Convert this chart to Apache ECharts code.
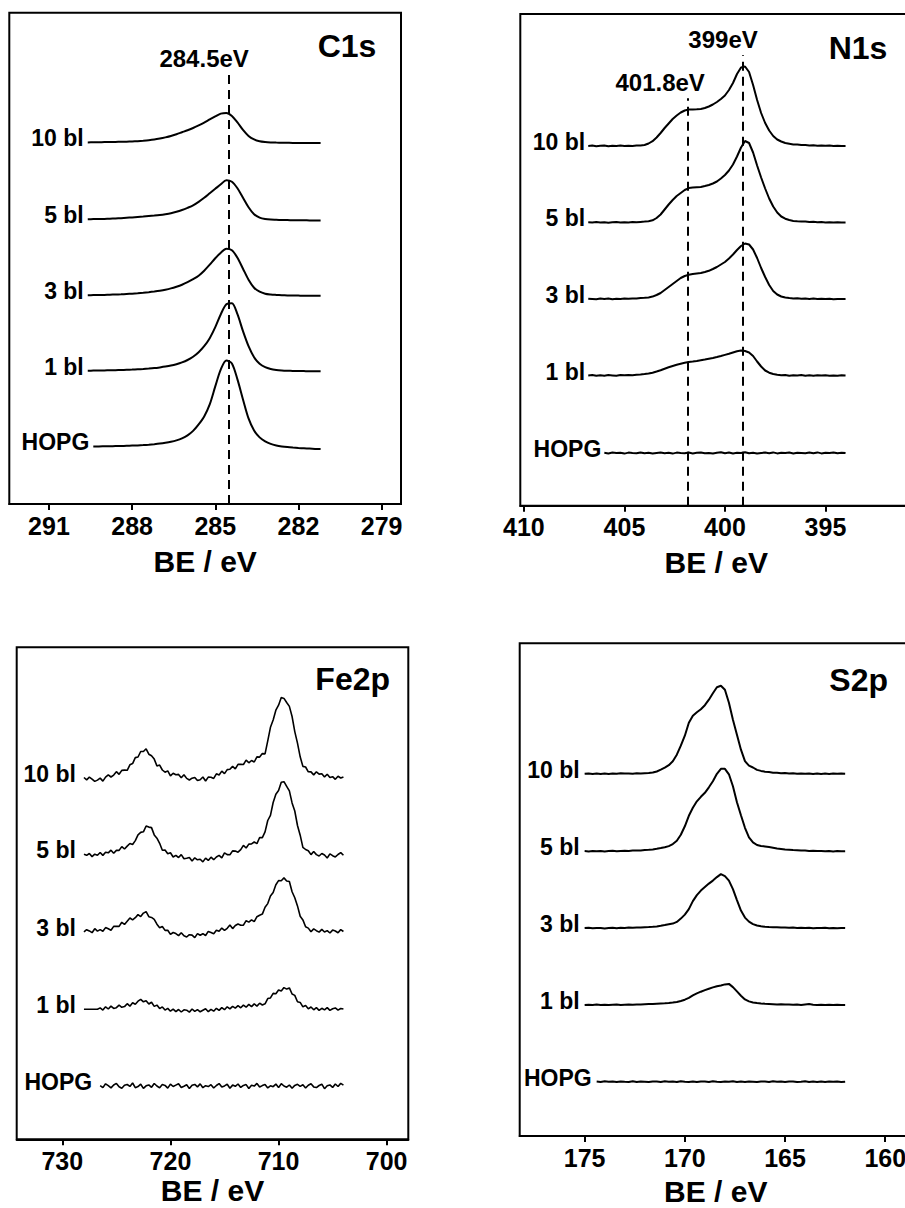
<!DOCTYPE html>
<html>
<head>
<meta charset="utf-8">
<script src="https://cdn.jsdelivr.net/npm/echarts@6/dist/echarts.min.js"></script>
<style>
html,body{margin:0;padding:0;background:#fff;}
#chart{width:905px;height:1208px;}
</style>
</head>
<body>
<div id="chart"></div>
<script>
// ---------------- DATA ----------------
const curveNames = ['10 bl', '5 bl', '3 bl', '1 bl', 'HOPG'];

// C1s
const c1sEnergy = [289.6, 289.4, 289.2, 289.0, 288.8, 288.6, 288.4, 288.2, 288.0, 287.8,
  287.6, 287.4, 287.2, 287.0, 286.8, 286.6, 286.4, 286.2, 286.0, 285.8,
  285.6, 285.4, 285.2, 285.0, 284.8, 284.6, 284.4, 284.2, 284.0, 283.8,
  283.6, 283.4, 283.2, 283.0, 282.8, 282.6, 282.4, 282.2, 282.0, 281.8,
  281.6, 281.4, 281.2];
const c1s10bl = [0.0, 0.1, 0.2, 0.3, 0.4, 0.5, 0.6, 0.7, 0.9, 1.2,
  1.6, 2.1, 2.8, 3.8, 5.0, 6.4, 8.2, 10.2, 12.2, 14.4,
  17, 19.8, 23, 26, 28.8, 29.5, 26.5, 20, 12.5, 6.5,
  3, 1.2, 0.4, 0, -0.2, -0.3, -0.4, -0.5, -0.5, -0.5,
  -0.5, -0.5, -0.5];
const c1s5bl = [0.6, 0.7, 0.8, 0.9, 1.1, 1.3, 1.6, 2.0, 2.4, 2.8,
  3.2, 3.7, 4.2, 4.8, 5.6, 6.6, 8.0, 9.8, 12, 14.5,
  18, 22, 26.5, 31, 35.5, 39.5, 38, 31.5, 22, 12.5,
  5.5, 2.2, 0.8, 0.2, 0, -0.2, -0.3, -0.4, -0.5, -0.5,
  -0.6, -0.6, -0.6];
const c1s3bl = [0.5, 0.6, 0.7, 0.8, 1.0, 1.2, 1.4, 1.7, 2.0, 2.4,
  2.9, 3.5, 4.2, 5.0, 6.0, 7.3, 9.0, 11.0, 13.5, 16.5,
  20, 25, 31, 37.5, 43, 47, 45.5, 38, 27, 16,
  8, 4, 2, 1.2, 0.8, 0.5, 0.3, 0.2, 0.1, 0,
  0, 0, 0];
const c1s1bl = [0.5, 0.6, 0.7, 0.8, 0.9, 1.0, 1.2, 1.4, 1.6, 1.9,
  2.2, 2.6, 3.1, 3.8, 4.6, 5.6, 7.0, 8.8, 11.2, 14.5,
  19, 25, 33, 44, 57, 67, 68, 57, 40, 25,
  14, 7.5, 4, 2.2, 1.3, 0.8, 0.5, 0.3, 0.2, 0.1,
  0, 0, 0];
const c1sHOPG = [null, 3.0, 3.0, 3.1, 3.2, 3.3, 3.4, 3.6, 3.8, 4.0,
  4.3, 4.7, 5.2, 5.8, 6.6, 7.6, 9.0, 11.0, 14.0, 18.5,
  25, 33, 45, 63, 80, 89, 86, 70, 50, 31,
  19, 12, 8, 5.5, 4, 3, 2.3, 1.8, 1.4, 1.1,
  0.8, 0.5, 0.3];
const c1sOffsets = [361.6, 284.2, 208.3, 132.8, 54.6];
const c1sTicks = [291, 288, 285, 282, 279];

// N1s
const n1sEnergy = [406.8, 406.6, 406.4, 406.2, 406.0, 405.8, 405.6, 405.4, 405.2, 405.0,
  404.8, 404.6, 404.4, 404.2, 404.0, 403.8, 403.6, 403.4, 403.2, 403.0,
  402.8, 402.6, 402.4, 402.2, 402.0, 401.8, 401.6, 401.4, 401.2, 401.0,
  400.8, 400.6, 400.4, 400.2, 400.0, 399.8, 399.6, 399.4, 399.2, 399.0,
  398.8, 398.6, 398.4, 398.2, 398.0, 397.8, 397.6, 397.4, 397.2, 397.0,
  396.8, 396.6, 396.4, 396.2, 396.0, 395.8, 395.6, 395.4, 395.2, 395.0,
  394.8, 394.6, 394.4, 394.2, 394.0];
const n1s10bl = [0.0, 0.4, -0.3, 0.2, 0.5, -0.2, 0.3, 0.0, 0.4, -0.1,
  0.3, 0.1, 0.5, 0.6, 1.0, 2.5, 4.8, 8.5, 13, 18,
  22.5, 27, 30.5, 33.5, 35.5, 36.4, 36.6, 36.8, 37.1, 38,
  39.5, 41.5, 44, 47, 50.5, 56, 63, 72, 78.5, 79.5,
  74, 61, 46, 33, 23, 15.5, 10, 6.5, 4.5, 3,
  2.3, 1.6, 1.5, 0.9, 1.1, 0.6, 0.8, 0.3, 0.6, 0.2,
  0.4, -0.1, 0.3, 0.0, 0.1];
const n1s5bl = [0.2, -0.1, 0.4, 0.0, 0.3, -0.3, 0.2, 0.5, 0.0, 0.3,
  0.1, 0.4, 0.2, 0.6, 0.9, 1.3, 2.2, 4.5, 8, 13,
  18, 22.5, 26.5, 29.5, 32.5, 34.4, 35, 35.3, 35.6, 36.5,
  37.5, 39, 41, 44, 47.5, 52, 58, 66, 75, 81.5,
  79.5, 70, 57, 45, 34, 24, 16, 10, 6, 3.8,
  2.5, 1.6, 1.2, 0.9, 1.0, 0.5, 0.7, 0.3, 0.5, 0.1,
  0.3, 0.0, 0.2, -0.1, 0.0];
const n1s3bl = [0.3, 0.0, -0.3, 0.4, 0.1, 0.5, -0.2, 0.3, 0.0, 0.4,
  0.2, 0.6, 0.5, 0.9, 1.2, 1.6, 2.4, 4.0, 6.0, 9.0,
  12, 15, 18, 21, 23, 24.2, 25, 25.6, 26, 27,
  28.2, 30, 32, 34.5, 37, 40.5, 44.5, 49, 53, 55.5,
  54.5, 49.5, 41, 31, 22, 14, 8, 4.5, 2.5, 1.5,
  1.0, 0.6, 0.8, 0.3, 0.5, 0.1, 0.4, -0.1, 0.3, 0.0,
  0.2, -0.2, 0.1, -0.1, 0.0];
const n1s1bl = [0.0, 0.5, -0.3, 0.3, -0.2, 0.4, 0.1, -0.3, 0.4, 0.2,
  0.6, 0.3, 0.8, 0.9, 1.4, 2.0, 2.8, 4.0, 5.3, 6.8,
  8.2, 9.5, 10.7, 11.8, 12.8, 13.5, 14.0, 14.6, 15.3, 16.0,
  16.8, 17.6, 18.5, 19.5, 20.6, 21.7, 23, 24.2, 25, 24.5,
  23, 19.5, 14, 9, 5, 2.8, 1.5, 0.8, 0.3, 0.6,
  -0.2, 0.3, 0.0, 0.4, -0.2, 0.2, -0.3, 0.2, 0.0, 0.3,
  -0.2, 0.1, -0.3, 0.2, 0.0];
const n1sHOPG = [null, null, null, null, 0.2, -0.4, 0.5, -0.1, 0.3, -0.6,
  0.4, 0.0, -0.3, 0.6, -0.2, 0.3, -0.5, 0.1, 0.5, -0.3,
  0.2, -0.6, 0.4, 0.0, -0.2, 0.5, -0.4, 0.2, 0.6, -0.3,
  0.1, -0.5, 0.3, 0.7, -0.2, 0.4, -0.4, 0.2, -0.1, 0.8,
  -0.3, 0.3, -0.5, 0.1, 0.4, -0.2, 0.6, -0.4, 0.2, -0.1,
  0.5, -0.5, 0.3, 0.0, -0.3, 0.4, -0.2, 0.6, -0.4, 0.2,
  0.0, 0.5, -0.3, 0.3, -0.1];
const n1sOffsets = [359.7, 283.2, 206.7, 130.2, 52.7];
const n1sTicks = [410, 405, 400, 395];

// Fe2p
const fe2pEnergy = [728, 727.75, 727.5, 727.25, 727, 726.75, 726.5, 726.25, 726, 725.75,
  725.5, 725.25, 725, 724.75, 724.5, 724.25, 724, 723.75, 723.5, 723.25,
  723, 722.75, 722.5, 722.25, 722, 721.75, 721.5, 721.25, 721, 720.75,
  720.5, 720.25, 720, 719.75, 719.5, 719.25, 719, 718.75, 718.5, 718.25,
  718, 717.75, 717.5, 717.25, 717, 716.75, 716.5, 716.25, 716, 715.75,
  715.5, 715.25, 715, 714.75, 714.5, 714.25, 714, 713.75, 713.5, 713.25,
  713, 712.75, 712.5, 712.25, 712, 711.75, 711.5, 711.25, 711, 710.75,
  710.5, 710.25, 710, 709.75, 709.5, 709.25, 709, 708.75, 708.5, 708.25,
  708, 707.75, 707.5, 707.25, 707, 706.75, 706.5, 706.25, 706, 705.75,
  705.5, 705.25, 705, 704.75, 704.5, 704.25, 704];
const fe2p10bl = [0.2, -2.1, 0.5, -1.4, -3.7, -2.4, -0.4, -3.4, 0.6, 2.8,
  0.7, 2.6, 6.0, 3.4, 7.3, 7.6, 7.4, 12.9, 14.1, 20.1,
  20.7, 26.2, 26.2, 28.9, 23.5, 21.9, 18.6, 11.8, 12.6, 7.7,
  5.5, 6.8, 1.8, 4.5, 3.0, 3.3, -0.1, 3.0, -0.7, -2.3,
  -0.5, 0.3, -2.9, -2.0, 0.7, -3.3, 0.6, 0.5, -0.7, 3.9,
  2.7, 6.6, 4.1, 8.1, 8.4, 11.3, 8.9, 13.4, 13.3, 13.2,
  17.6, 14.9, 17.2, 15.7, 20.8, 20.6, 24.1, 23.8, 36.8, 50.4,
  57.7, 67.5, 72.5, 80.1, 79.3, 75.2, 71.3, 61.2, 46.1, 34.6,
  20.9, 11.3, 10.7, 5.9, 5.8, 2.8, 5.9, 3.6, 4.0, 0.8,
  3.5, 0.3, 1.0, -1.6, 1.4, -0.3, 0.8];
const fe2p5bl = [1.3, 0.3, 2.1, -1.0, 1.4, 0.3, 3.1, 0.2, 3.3, 2.8,
  5.4, 2.3, 5.2, 5.2, 9.0, 6.6, 9.5, 12.1, 11.1, 15.0,
  20.8, 23.2, 23.8, 29.6, 28.5, 28.0, 20.7, 17.4, 12.3, 5.3,
  5.6, 1.9, 2.8, -1.4, 0.2, -1.9, 1.0, -3.1, -2.6, -1.8,
  -5.4, -2.2, -4.2, -3.6, -6.3, -2.5, -4.8, -1.6, -4.1, -1.4,
  0.2, -2.3, 2.8, 1.0, 0.8, 4.7, 4.5, 3.4, 6.0, 10.2,
  7.6, 11.5, 11.7, 13.6, 12.0, 18.1, 18.0, 23.7, 35.1, 40.3,
  53.1, 61.4, 65.0, 73.4, 73.9, 69.3, 64.7, 52.7, 44.6, 30.1,
  20.4, 8.3, 6.1, 4.9, 1.0, 4.1, 1.0, -0.4, 2.1, 0.6,
  -2.4, 1.7, -0.1, -1.3, 1.1, 3.0, 0.3];
const fe2p3bl = [0.1, 2.3, 1.1, -0.7, 3.3, 0.9, 2.4, 0.7, 4.4, 3.2,
  1.8, 5.6, 5.7, 5.6, 9.7, 7.6, 10.8, 14.0, 12.2, 14.3,
  17.4, 15.4, 18.9, 20.3, 15.3, 14.6, 12.7, 7.8, 4.3, 5.5,
  1.6, 1.8, -2.4, -0.5, -1.6, -3.6, -0.7, -3.8, -5.0, -2.7,
  -3.1, -5.6, -1.6, -3.3, -1.7, -3.5, 0.6, -0.5, -1.8, 1.8,
  0.7, 3.9, 1.6, 3.7, 6.9, 3.4, 6.5, 8.0, 6.8, 6.9,
  11.3, 9.9, 12.1, 10.3, 15.3, 16.8, 17.9, 24.7, 28.4, 36.0,
  39.5, 47.2, 51.4, 51.3, 54.1, 51.0, 50.5, 40.3, 34.2, 26.1,
  15.7, 12.1, 5.2, 3.9, 0.2, 3.1, 1.3, -0.1, 2.6, 0.0,
  1.4, -1.0, 1.9, 1.0, -0.7, 2.4, 0.5];
const fe2p1bl = [0, 0, 0, 0, 0, 0, 1.3, -0.9, 2.4, 0.2,
  3.1, 0.8, 1.5, 4.0, 1.9, 2.6, 5.5, 3.0, 6.4, 4.9,
  8.0, 9.9, 7.4, 8.5, 5.2, 6.9, 2.8, 4.1, 0.6, 2.3,
  -0.9, 0.8, -2.0, 0.1, -2.4, -0.3, -2.8, -0.6, -1.0, -2.9,
  0.2, -2.2, -0.4, -2.6, -1.1, 0.4, -2.5, -0.1, -2.0, 0.9,
  -1.2, 1.6, -0.5, 2.4, 0.3, 2.9, 1.1, 3.5, 1.4, 4.1,
  2.0, 4.8, 2.6, 5.3, 3.1, 6.0, 4.2, 5.4, 10.6, 11.3,
  15.8, 15.4, 19.2, 18.1, 21.6, 20.1, 21.3, 15.2, 13.8, 7.5,
  6.8, 2.4, 3.6, 0.4, 2.2, -0.6, 1.5, -1.1, 0.9, -0.7,
  1.6, -1.2, 0.4, 1.3, -0.9, 0.7, 0.2];
const fe2pHOPG = [null, null, null, null, null, null, 0.4, -1.6, 2.2, 0.3,
  -1.9, 1.0, 2.6, -0.8, -2.3, 0.7, 1.5, -0.4, 3.0, -1.7,
  -0.6, 1.8, -2.4, 0.2, 1.1, -1.3, 2.5, 0.0, -1.8, 1.4,
  0.6, -2.1, 1.9, -0.5, 0.9, 2.3, -1.5, -0.2, 1.2, -2.6,
  0.8, 1.6, -0.9, 2.1, -1.7, 0.3, -0.6, 1.3, -2.0, 0.5,
  2.4, -1.1, 0.1, 1.7, -2.2, 0.9, -0.3, 2.0, -1.4, 0.6,
  1.4, -2.5, 0.7, -0.1, 2.6, -1.0, 0.4, 1.5, -1.9, 0.2,
  -0.7, 1.9, -1.6, 2.3, 0.0, -1.2, 1.0, -2.3, 0.6, 1.7,
  -0.4, 1.2, -2.0, 0.8, 2.2, -0.9, -1.6, 0.5, 1.8, -2.7,
  0.3, 1.1, -1.4, 2.0, -0.5, 2.6, 0.9];
const fe2pOffsets = [361.6, 283.7, 207.3, 130.1, 53.3];
const fe2pTicks = [730, 720, 710, 700];

// S2p
const s2pEnergy = [175.0, 174.8, 174.6, 174.4, 174.2, 174.0, 173.8, 173.6, 173.4, 173.2,
  173.0, 172.8, 172.6, 172.4, 172.2, 172.0, 171.8, 171.6, 171.4, 171.2,
  171.0, 170.8, 170.6, 170.4, 170.2, 170.0, 169.8, 169.6, 169.4, 169.2,
  169.0, 168.8, 168.6, 168.4, 168.2, 168.0, 167.8, 167.6, 167.4, 167.2,
  167.0, 166.8, 166.6, 166.4, 166.2, 166.0, 165.8, 165.6, 165.4, 165.2,
  165.0, 164.8, 164.6, 164.4, 164.2, 164.0, 163.8, 163.6, 163.4, 163.2,
  163.0, 162.8, 162.6, 162.4, 162.2, 162.0];
const s2p10bl = [0.0, 0.3, -0.2, 0.2, -0.4, 0.1, -0.3, 0.2, 0.0, 0.4,
  0.1, 0.3, 0.0, 0.4, 0.2, 0.5, 0.7, 1.2, 2.2, 4.0,
  6.0, 8.5, 12.5, 19, 28, 38, 51, 58, 61.5, 64.5,
  68.5, 74, 80.5, 86.5, 88, 84, 71, 54, 39, 24,
  12.5, 8, 6.2, 3.8, 2.8, 2.0, 1.6, 1.0, 0.9, 0.4,
  0.6, 0.2, 0.4, -0.1, 0.3, 0.0, 0.3, -0.2, 0.2, -0.3,
  0.1, -0.2, 0.2, -0.1, 0.1, 0.0];
const s2p5bl = [0.2, -0.1, 0.3, 0.0, 0.4, -0.2, 0.2, 0.5, 0.1, 0.4,
  0.6, 0.3, 0.7, 0.9, 0.8, 1.2, 1.5, 1.9, 2.5, 3.2,
  4.0, 5.2, 7.2, 10.5, 16.5, 25, 35.5, 43.5, 50, 54.5,
  58.5, 64, 70, 77.5, 82.5, 82.5, 77, 65, 49, 36,
  23.5, 14, 9, 6.3, 5.4, 4.8, 4.2, 3.5, 2.8, 2.3,
  1.8, 1.5, 1.2, 1.0, 0.7, 0.8, 0.4, 0.6, 0.2, 0.4,
  0.0, 0.3, -0.1, 0.2, 0.0, 0.1];
const s2p3bl = [0.0, 0.3, -0.2, 0.2, 0.0, -0.3, 0.1, 0.4, -0.1, 0.3,
  0.2, 0.5, 0.3, 0.6, 0.5, 0.8, 1.0, 1.3, 1.7, 2.3,
  3.0, 3.8, 4.5, 6.2, 9.5, 13.5, 19, 27, 33, 37.5,
  41, 44.5, 47.5, 51, 54, 52, 47.5, 39, 28, 17.5,
  10.5, 6.5, 4.0, 2.6, 1.8, 1.3, 1.0, 0.8, 0.9, 0.5,
  0.7, 0.3, 0.6, 0.2, 0.4, 0.0, 0.3, -0.1, 0.2, 0.0,
  0.3, -0.1, 0.1, -0.2, 0.1, 0.0];
const s2p1bl = [0.0, 0.2, -0.1, 0.3, 0.0, 0.2, -0.2, 0.1, 0.3, 0.0,
  0.2, 0.4, 0.2, 0.5, 0.4, 0.6, 0.8, 1.0, 1.2, 1.4,
  1.6, 1.9, 2.3, 3.0, 3.9, 5.2, 7.0, 9.5, 11.5, 13.2,
  14.8, 16.2, 17.5, 18.6, 19.4, 20.5, 21.0, 17.8, 13.5, 9.2,
  5.5, 3.5, 2.4, 1.8, 1.4, 1.1, 0.9, 0.7, 0.5, 0.6,
  0.3, 0.4, 0.2, 0.3, 0.0, 0.4, 0.8, 0.2, 0.0, 0.2,
  -0.1, 0.1, -0.1, 0.1, 0.0, 0.0];
const s2pHOPG = [null, null, null, 0.1, -0.3, 0.4, -0.1, 0.2, -0.4, 0.3,
  0.0, -0.2, 0.5, -0.3, 0.2, 0.0, -0.4, 0.3, 0.1, -0.2,
  0.4, -0.1, 0.2, -0.3, 0.5, 0.0, -0.2, 0.3, -0.4, 0.2,
  0.1, -0.3, 0.4, 0.0, -0.2, 0.3, -0.1, 0.5, -0.3, 0.1,
  -0.2, 0.3, 0.0, -0.4, 0.2, 0.1, -0.3, 0.4, -0.1, 0.2,
  -0.4, 0.1, 0.3, -0.2, 0.0, 0.4, -0.3, 0.1, -0.2, 0.3,
  -0.4, 0.1, -0.1, 0.2, -0.3, 0.0];
const s2pOffsets = [362.3, 284.7, 207.9, 131.1, 54.3];
const s2pTicks = [175, 170, 165, 160];

// ---------------- CHART ----------------
const FONT = '"Liberation Sans", Arial, Helvetica, sans-serif';
const BLACK = '#000000';

const panels = [
  { title: 'C1s', energy: c1sEnergy, curves: [c1s10bl, c1s5bl, c1s3bl, c1s1bl, c1sHOPG], offsets: c1sOffsets, ticks: c1sTicks,
    min: 278.30, max: 292.43, grid: { left: 9.3, top: 12.7, width: 391.7, height: 491.3 }, smooth: 0.3, lw: 2, labelDist: 4,
    nameGap: 42, titlePos: [347, 46],
    marks: [{ x: 284.5, top: 430, text: '284.5eV', dx: -25 }] },
  { title: 'N1s', energy: n1sEnergy, curves: [n1s10bl, n1s5bl, n1s3bl, n1s1bl, n1sHOPG], offsets: n1sOffsets, ticks: n1sTicks,
    min: 390.68, max: 410.18, grid: { left: 520.3, top: 14, width: 392, height: 491.7 }, smooth: false, lw: 2, labelDist: 3,
    nameGap: 42, titlePos: [858, 48.3],
    marks: [{ x: 399.1, top: 450.7, text: '399eV', dx: -20 }, { x: 401.85, top: 407.4, text: '401.8eV', dx: -27.6 }] },
  { title: 'Fe2p', energy: fe2pEnergy, curves: [fe2p10bl, fe2p5bl, fe2p3bl, fe2p1bl, fe2pHOPG], offsets: fe2pOffsets, ticks: fe2pTicks,
    min: 698.0, max: 734.22, grid: { left: 16.7, top: 647.3, width: 391.6, height: 492 }, smooth: false, lw: 1.6, labelDist: 8,
    nameGap: 36, titlePos: [352.7, 679.3], marks: [] },
  { title: 'S2p', energy: s2pEnergy, curves: [s2p10bl, s2p5bl, s2p3bl, s2p1bl, s2pHOPG], offsets: s2pOffsets, ticks: s2pTicks,
    min: 158.68, max: 178.24, grid: { left: 519.7, top: 643.3, width: 392, height: 492.7 }, smooth: false, lw: 2, labelDist: 5,
    nameGap: 40, titlePos: [858.7, 680], marks: [] }
];

const grids = [], xAxes = [], yAxes = [], series = [], graphics = [];

panels.forEach((p, gi) => {
  grids.push(Object.assign({ show: true, borderColor: BLACK, borderWidth: 2, backgroundColor: 'transparent',
    containLabel: false, outerBoundsMode: 'none' }, p.grid));
  xAxes.push({
    gridIndex: gi, type: 'value', inverse: true, min: p.min, max: p.max,
    axisLine: { show: true, onZero: false, lineStyle: { color: BLACK, width: 2 } },
    axisTick: { show: true, inside: false, length: 6, lineStyle: { color: BLACK, width: 2 }, customValues: p.ticks },
    axisLabel: { show: true, customValues: p.ticks, margin: 9, fontSize: 25, fontWeight: 'bold', color: BLACK, fontFamily: FONT },
    splitLine: { show: false },
    name: 'BE / eV', nameLocation: 'middle', nameGap: p.nameGap,
    nameTextStyle: { fontSize: 30, fontWeight: 'bold', color: BLACK, fontFamily: FONT }
  });
  yAxes.push({ gridIndex: gi, type: 'value', min: 0, max: p.grid.height, show: false });

  const labelData = [];
  p.curves.forEach((vals, ci) => {
    const data = [];
    p.energy.forEach((e, k) => { if (vals[k] !== null) data.push([e, vals[k] + p.offsets[ci]]); });
    const s = {
      type: 'line', name: p.title + ' ' + curveNames[ci], xAxisIndex: gi, yAxisIndex: gi, data: data,
      symbol: 'none', showSymbol: false, smooth: p.smooth, silent: true, animation: false,
      lineStyle: { color: BLACK, width: p.lw }, z: 3
    };
    if (ci === 0 && p.marks.length) {
      s.markLine = {
        silent: true, animation: false, symbol: ['none', 'none'],
        lineStyle: { color: BLACK, width: 2, type: [9, 6] },
        data: p.marks.map(m => [
          { coord: [m.x, 0] },
          { coord: [m.x, m.top], label: { show: true, position: 'end', distance: 4, formatter: m.text, offset: [m.dx, 0],
              fontSize: 24, fontWeight: 'bold', color: BLACK, fontFamily: FONT } }
        ])
      };
    }
    series.push(s);
    labelData.push({ name: curveNames[ci], value: data[0] });
  });
  series.push({
    type: 'scatter', xAxisIndex: gi, yAxisIndex: gi, symbol: 'circle', symbolSize: 0, silent: true, animation: false,
    itemStyle: { color: BLACK, opacity: 1 }, data: labelData, z: 4,
    label: { show: true, position: 'left', distance: p.labelDist, offset: [0, -4], formatter: d => d.name,
      fontSize: 23, fontWeight: 'bold', color: BLACK, opacity: 1, fontFamily: FONT }
  });
  graphics.push({ type: 'text', x: p.titlePos[0], y: p.titlePos[1], silent: true,
    style: { text: p.title, fill: BLACK, font: 'bold 32px ' + FONT, align: 'center', verticalAlign: 'middle' } });
});

const chart = echarts.init(document.getElementById('chart'), null, { renderer: 'svg', width: 905, height: 1208 });
chart.setOption({
  backgroundColor: '#fff',
  animation: false,
  grid: grids, xAxis: xAxes, yAxis: yAxes, series: series, graphic: graphics
});
</script>
</body>
</html>
